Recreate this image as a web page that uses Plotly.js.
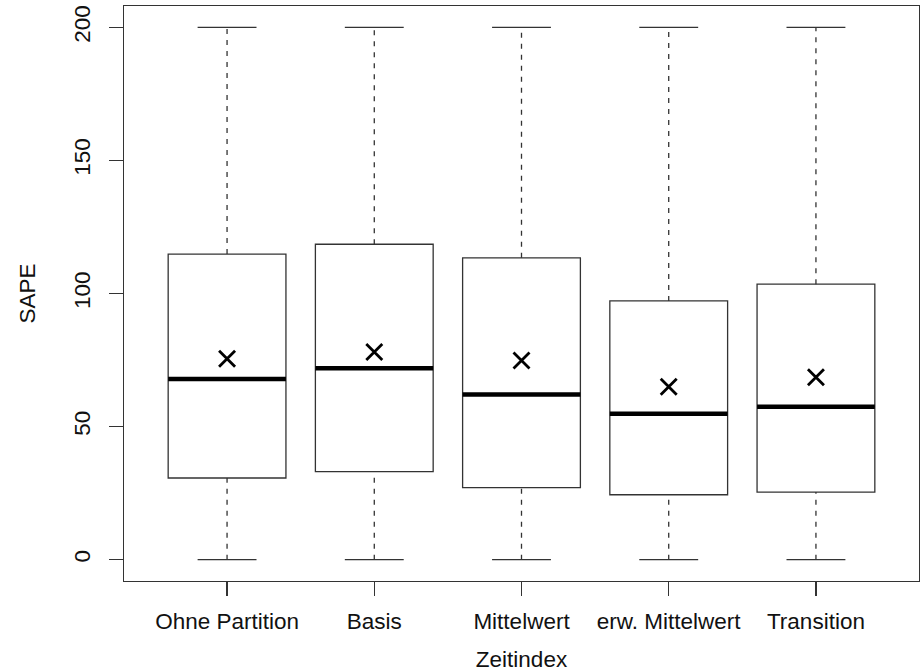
<!DOCTYPE html>
<html>
<head>
<meta charset="utf-8">
<script src="https://cdn.plot.ly/plotly-3.0.1.min.js"></script>
<style>
  html, body { margin: 0; padding: 0; background: #ffffff; }
  #chart { width: 924px; height: 672px; }
</style>
</head>
<body>
<div id="chart"></div>
<script>
// SAPE distribution per time-index variant
const categories = ["Ohne Partition", "Basis", "Mittelwert", "erw. Mittelwert", "Transition"];
const lowerWhisker = [0, 0, 0, 0, 0];
const q1Values     = [30.7, 33.1, 27.1, 24.4, 25.4];
const medianValues = [67.9, 71.9, 62.1, 54.8, 57.5];
const q3Values     = [114.8, 118.5, 113.4, 97.2, 103.5];
const upperWhisker = [200, 200, 200, 200, 200];
const meanValues   = [75.5, 78.0, 74.8, 65.0, 68.5];
const yTicks = [0, 50, 100, 150, 200];

const positions = categories.map((_, i) => i + 1);
const boxHalf = 0.4;   // half box width in axis units
const capHalf = 0.2;   // half staple width

const ink = "#333333";
const textInk = "#111111";
const font = "Liberation Sans, Arial, Helvetica, sans-serif";
const textSize = 22.5;

// boxes (fences equal to the quartiles, whiskers drawn separately with dashes)
const boxes = {
  type: "box",
  x: positions,
  q1: q1Values,
  median: medianValues,
  q3: q3Values,
  lowerfence: q1Values,
  upperfence: q3Values,
  width: 2 * boxHalf,
  whiskerwidth: 0,
  fillcolor: "rgba(255,255,255,0)",
  line: { color: ink, width: 1.3 },
  boxpoints: false,
  hoverinfo: "skip",
  showlegend: false
};

// dashed whiskers
const wx = [], wy = [];
positions.forEach((p, i) => {
  wx.push(p, p, null, p, p, null);
  wy.push(q3Values[i], upperWhisker[i], null, lowerWhisker[i], q1Values[i], null);
});
const whiskers = {
  type: "scatter", mode: "lines", x: wx, y: wy,
  line: { color: ink, width: 1.3, dash: "5px,6px" },
  hoverinfo: "skip", showlegend: false
};

// whisker staples
const cx = [], cy = [];
positions.forEach((p, i) => {
  cx.push(p - capHalf, p + capHalf, null, p - capHalf, p + capHalf, null);
  cy.push(upperWhisker[i], upperWhisker[i], null, lowerWhisker[i], lowerWhisker[i], null);
});
const caps = {
  type: "scatter", mode: "lines", x: cx, y: cy,
  line: { color: ink, width: 1.3 },
  hoverinfo: "skip", showlegend: false
};

// thick median bars
const mx = [], my = [];
positions.forEach((p, i) => {
  mx.push(p - boxHalf, p + boxHalf, null);
  my.push(medianValues[i], medianValues[i], null);
});
const medians = {
  type: "scatter", mode: "lines", x: mx, y: my,
  line: { color: "#000000", width: 4.5 },
  hoverinfo: "skip", showlegend: false
};

// mean markers
const means = {
  type: "scatter", mode: "markers", x: positions, y: meanValues,
  marker: { symbol: "x-thin", size: 16, color: "#000000", line: { color: "#000000", width: 2.8 } },
  hoverinfo: "skip", showlegend: false
};

const layout = {
  width: 924, height: 672,
  margin: { l: 124, r: 5, t: 6, b: 91 },
  paper_bgcolor: "#ffffff",
  plot_bgcolor: "#ffffff",
  showlegend: false,
  font: { family: font, size: textSize, color: textInk },
  xaxis: {
    range: [0.3, 5.7],
    tickvals: positions,
    ticktext: categories,
    ticks: "outside", ticklen: 14, tickwidth: 1.3, tickcolor: ink,
    ticklabelstandoff: 6,
    showgrid: false, zeroline: false,
    showline: true, mirror: true, linecolor: ink, linewidth: 1.3,
    tickfont: { family: font, size: textSize, color: textInk },
    title: { text: "Zeitindex", font: { family: font, size: textSize, color: textInk }, standoff: 20 }
  },
  yaxis: {
    range: [-8, 208],
    tickvals: yTicks,
    ticktext: yTicks.map(String),
    tickangle: -90,
    ticks: "outside", ticklen: 14, tickwidth: 1.3, tickcolor: ink,
    ticklabelstandoff: 10,
    showgrid: false, zeroline: false,
    showline: true, mirror: true, linecolor: ink, linewidth: 1.3,
    tickfont: { family: font, size: textSize, color: textInk },
    title: { text: "SAPE", font: { family: font, size: textSize, color: textInk }, standoff: 27 }
  }
};

Plotly.newPlot("chart", [boxes, whiskers, caps, medians, means], layout, { displayModeBar: false, staticPlot: true });
</script>
</body>
</html>
